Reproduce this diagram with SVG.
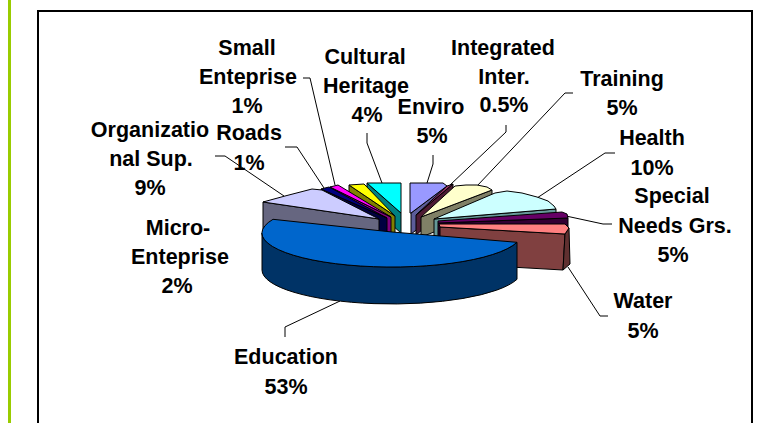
<svg xmlns="http://www.w3.org/2000/svg" width="765" height="423" viewBox="0 0 765 423">
<style>
.s{stroke:#000;stroke-width:1;stroke-linejoin:round}
.lbl{font-family:"Liberation Sans",Arial,sans-serif;font-weight:bold;font-size:21.5px;fill:#000;text-anchor:middle}
.ld{fill:none;stroke:#000;stroke-width:1}
</style>
<rect x="0" y="0" width="765" height="423" fill="#fff"/>
<rect x="8" y="0" width="3" height="423" fill="#99CC00"/>
<rect x="38" y="11" width="714" height="430" fill="#fff" stroke="#000" stroke-width="2"/>

<g id="connectors">
<polyline class="ld" points="215,156 225,156 284,196"/>
<polyline class="ld" points="285,147 297,147 324,188"/>
<polyline class="ld" points="303,78 310,78 335,185"/>
<polyline class="ld" points="367,133 367,143 382,183"/>
<polyline class="ld" points="433,155 433,164 427,183"/>
<polyline class="ld" points="506,125 506,132 450,185"/>
<polyline class="ld" points="573,93 565,93 477,186"/>
<polyline class="ld" points="615,153 605,153 537,198"/>
<polyline class="ld" points="612,224 603,224 566,216"/>
<polyline class="ld" points="608,316 600,316 568,267"/>
<polyline class="ld" points="285,337 285,327 340,301"/>
</g>

<g id="cultural-heritage">
<polygon class="s" fill="#008080" points="367,183 401,213 401,233 367,203"/>
<polygon class="s" fill="#00FFFF" points="367,183 401,183 401,213"/>
</g>
<g id="micro-enteprise">
<polygon class="s" fill="#808000" points="349,185 395,216 395,235 349,204"/>
<polygon class="s" fill="#FFFF00" points="349,185 364,184 395,216"/>
</g>
<g id="small-enteprise">
<polygon class="s" fill="#800080" points="330,187 391,217 391,235 330,205"/>
<polygon class="s" fill="#FF00FF" points="330,187 338,185 391,217"/>
</g>
<g id="roads">
<polygon class="s" fill="#000040" points="321,189 387,218 387,236 321,207"/>
<polygon class="s" fill="#000080" points="321,189 329,187 387,218"/>
</g>
<g id="organizational-sup">
<polygon class="s" fill="#666680" points="263,202 379,219 379,240 263,236"/>
<polygon class="s" fill="#CCCCFF" points="263,202 285,196 312,189 322,190 379,219"/>
</g>

<g id="enviro">
<polygon class="s" fill="#5C5C99" points="447,186 411,213 411,234 447,207"/>
<polygon class="s" fill="#9999FF" points="410,183 443,183 447,186 411,213 410,213"/>
</g>
<g id="integrated-inter">
<polygon class="s" fill="#4D1A33" points="453,184 416,215 416,235 453,204"/>
<polygon class="s" fill="#993366" points="447,186 453,184 416,215"/>
</g>
<g id="training">
<polygon class="s" fill="#808066" points="492,190 421,217 421,237 492,210"/>
<polygon class="s" fill="#FFFFCC" points="455,186 466,185 477,185 487,187 492,190 421,217"/>
</g>
<g id="health">
<polygon class="s" fill="#669999" points="556,209 434,219 434,239 556,229"/>
<polygon class="s" fill="#CCFFFF" points="495,193 507,191 522,193 537,197 548,201 554,206 556,209 434,219"/>
</g>
<g id="special-needs">
<polygon class="s" fill="#330033" points="568,218 438,223 438,241 568,237"/>
<polygon class="s" fill="#660066" points="438,221 562,212 567,214 568,218 438,223"/>
</g>
<g id="water">
<polygon class="s" fill="#804040" points="440,227 565,234 563,270 440,263"/>
<polygon class="s" fill="#603030" points="565,234 569,228 570,264 563,270"/>
<polygon class="s" fill="#FF8080" points="439,224 565,224 569,228 565,234 440,227"/>
</g>
<g id="education">
<path class="s" fill="#003366" d="M262,233 L262,270 A130 34 0 0 0 517,279.3 L517,242.3 A130 34 0 0 1 262,233 Z"/>
<path class="s" fill="#0066CC" d="M273,219.3 L392,232 L517,242.3 A130 34 0 1 1 273,219.3 Z"/>
</g>

<g id="labels">
<text class="lbl" x="247" y="55">Small</text>
<text class="lbl" x="248" y="84">Enteprise</text>
<text class="lbl" x="247" y="113">1%</text>
<text class="lbl" x="365" y="64">Cultural</text>
<text class="lbl" x="366" y="93">Heritage</text>
<text class="lbl" x="367" y="122">4%</text>
<text class="lbl" x="503" y="55">Integrated</text>
<text class="lbl" x="504" y="84">Inter.</text>
<text class="lbl" x="504" y="112">0.5%</text>
<text class="lbl" x="431" y="114">Enviro</text>
<text class="lbl" x="432" y="143">5%</text>
<text class="lbl" x="622" y="86">Training</text>
<text class="lbl" x="622" y="115">5%</text>
<text class="lbl" x="652" y="145">Health</text>
<text class="lbl" x="652" y="175">10%</text>
<text class="lbl" x="672" y="203">Special</text>
<text class="lbl" x="675" y="233">Needs Grs.</text>
<text class="lbl" x="673" y="262">5%</text>
<text class="lbl" x="643" y="308">Water</text>
<text class="lbl" x="643" y="338">5%</text>
<text class="lbl" x="150" y="137">Organizatio</text>
<text class="lbl" x="151" y="166">nal Sup.</text>
<text class="lbl" x="150" y="195">9%</text>
<text class="lbl" x="249" y="140">Roads</text>
<text class="lbl" x="249" y="170">1%</text>
<text class="lbl" x="178" y="235">Micro-</text>
<text class="lbl" x="180" y="264">Enteprise</text>
<text class="lbl" x="177" y="293">2%</text>
<text class="lbl" x="286" y="364">Education</text>
<text class="lbl" x="286" y="394">53%</text>
</g>
</svg>
